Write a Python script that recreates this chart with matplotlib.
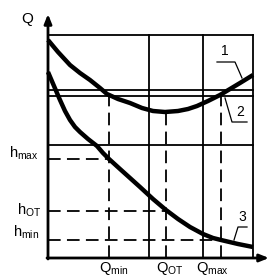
import matplotlib
matplotlib.use("Agg")
import matplotlib.pyplot as plt

plt.rcParams['font.family'] = ['Liberation Sans', 'DejaVu Sans']
plt.rcParams['mathtext.fontset'] = 'custom'
plt.rcParams['mathtext.rm'] = 'Liberation Sans'

# scheme coordinates: Q along x, H along y
q_grid = [101, 155, 205]          # solid vertical grid lines
h_top = 223
h_double = [168, 162]             # double horizontal line (curve 2)
h_mid = 113

q_min, q_ot, q_max = 61, 118, 173
h_max, h_ot, h_min = 99, 47, 18

curve1_q = [0, 10, 22, 32, 42, 52, 59, 70, 82, 94, 105, 117, 130, 140, 149,
            160, 172, 182, 192, 205]
curve1_h = [218, 206, 193, 185, 178, 170, 164, 159, 155, 150, 147, 146, 147,
            149, 152, 157, 163, 169, 175, 183]

curve3_q = [0, 6, 12, 17, 22, 27, 32, 40, 49, 55, 61, 72, 82, 92, 105, 118,
            130, 142, 155, 165, 173, 190, 205]
curve3_h = [186, 172, 158, 147, 138, 131, 126, 119, 112, 105, 99, 89, 80, 71,
            59, 48, 39, 31, 24, 20, 18, 14, 11]

fig = plt.figure(figsize=(2.68, 2.77), dpi=100)
ax = fig.add_axes([48 / 268, 19 / 277, 205 / 268, 223 / 277])
ax.set_xlim(0, 205)
ax.set_ylim(0, 223)
ax.axis('off')

k = 'black'
thin = 1.3
# grid
ax.plot([0, 205], [h_top, h_top], color=k, lw=thin, clip_on=False)
ax.plot([0, 205], [h_mid, h_mid], color=k, lw=thin, clip_on=False)
for h in h_double:
    ax.plot([0, 205], [h, h], color=k, lw=thin, clip_on=False)
for q in q_grid:
    ax.plot([q, q], [0, h_top], color=k, lw=thin, clip_on=False)

# dashed guides
dash = dict(color=k, lw=1.3, dashes=(7, 3.5), clip_on=False)
ax.plot([q_min, q_min], [0, h_double[1]], **dash)
ax.plot([q_ot, q_ot], [0, 146], **dash)
ax.plot([q_max, q_max], [0, h_double[1]], **dash)
ax.plot([0, q_min], [h_max, h_max], **dash)
ax.plot([0, q_ot], [h_ot, h_ot], **dash)
ax.plot([0, q_max], [h_min, h_min], **dash)

# curves
ax.plot(curve1_q, curve1_h, color=k, lw=3.2, solid_capstyle='butt',
        solid_joinstyle='round', clip_on=False)
ax.plot(curve3_q, curve3_h, color=k, lw=3.2, solid_capstyle='butt',
        solid_joinstyle='round', clip_on=False)

# axes with arrows
arr = dict(arrowstyle='-|>,head_length=0.55,head_width=0.22', color=k, lw=2.0,
           shrinkA=0, shrinkB=0)
ax.annotate('', xy=(0, 244), xytext=(0, -1), arrowprops=arr, annotation_clip=False)
ax.annotate('', xy=(221, 0), xytext=(-1, 0), arrowprops=arr, annotation_clip=False)

# leaders
lw_l = 0.9
ax.plot([169, 187, 194], [196, 196, 180], color=k, lw=lw_l, clip_on=False)
ax.plot([177, 184, 199], [160, 136, 136], color=k, lw=lw_l, clip_on=False)
ax.plot([186, 190, 199], [18, 31, 31], color=k, lw=lw_l, clip_on=False)
ax.text(177, 200, '1', fontsize=10, ha='center', va='bottom')
ax.text(192, 139, '2', fontsize=10, ha='center', va='bottom')
ax.text(194, 34, '3', fontsize=10, ha='center', va='bottom')

# labels
ax.text(-21, 239, 'Q', fontsize=11, ha='center', va='center')
ax.text(-9, 100, r'$\mathrm{h_{max}}$', fontsize=10.5, ha='right', va='baseline')
ax.text(-7, 43, r'$\mathrm{h_{OT}}$', fontsize=10.5, ha='right', va='baseline')
ax.text(-9, 21, r'$\mathrm{h_{min}}$', fontsize=10.5, ha='right', va='baseline')
ax.text(q_min + 5, -14, r'$\mathrm{Q_{min}}$', fontsize=10.5, ha='center', va='baseline')
ax.text(q_ot + 4, -14, r'$\mathrm{Q_{OT}}$', fontsize=10.5, ha='center', va='baseline')
ax.text(q_max - 9, -14, r'$\mathrm{Q_{max}}$', fontsize=10.5, ha='center', va='baseline')

fig.savefig('out.png', dpi=100)
